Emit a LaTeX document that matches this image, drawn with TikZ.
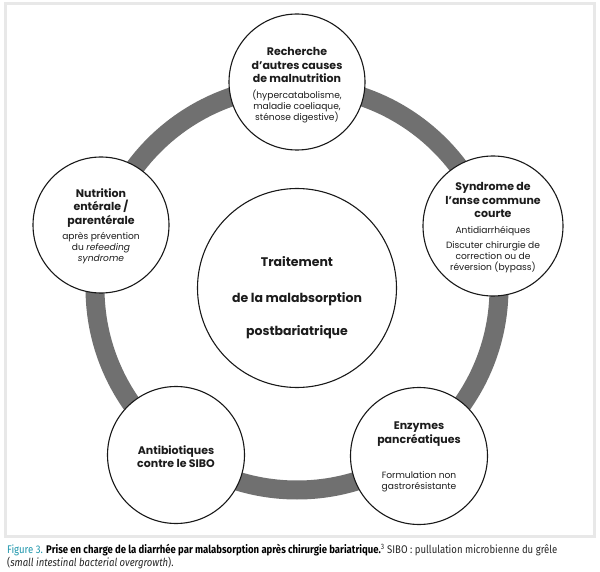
\documentclass[tikz,border=0pt]{standalone}
\usepackage{fontspec}
\setmainfont{Poppins}
\newfontfamily\capfont[FakeStretch=0.86]{Fira Sans}
\definecolor{ringc}{RGB}{112,112,112}
\definecolor{txt}{RGB}{28,28,28}
\definecolor{figc}{RGB}{30,150,172}
\begin{document}
\begin{tikzpicture}[x=1pt,y=-1pt]
\tikzset{
  bubble/.style={circle, draw=black!90, line width=1.1pt, fill=white, minimum size=#1, inner sep=0pt},
  head/.style={font=\fontsize{11}{13.5}\selectfont\bfseries, align=center, text=txt, inner sep=0pt},
  sub/.style={font=\fontsize{9.1}{11}\selectfont, align=center, text=txt, inner sep=0pt},
  big/.style={font=\fontsize{12.5}{15}\selectfont\bfseries, text=txt, inner sep=0pt},
  captext/.style={font=\capfont\fontsize{11.1}{13}\selectfont, anchor=west, inner sep=0pt, text=black!85}
}
\useasboundingbox (0,0) rectangle (600,572);
\fill[white] (0,0) rectangle (600,572);
% panel
\draw[black!9, line width=3pt, fill=white] (5,4) rectangle (594,536);
% ring
\draw[ringc, line width=19pt] (297,288) circle[radius=202pt];
% circles
\node[bubble=136pt] (top) at (297,82) {};
\node[bubble=136pt] (left) at (101,225) {};
\node[bubble=140pt] (right) at (493,226) {};
\node[bubble=137pt] (bl) at (176,455) {};
\node[bubble=137pt] (br) at (419,456) {};
\node[bubble=199pt] (center) at (297,288) {};
% texts
\node[head] (topH) at (297,65) {Recherche\\d'autres causes\\de malnutrition};
\node[sub] (topS) at (297,106) {(hypercatabolisme,\\maladie coeliaque,\\sténose digestive)};
\node[head] (leftH) at (101,208) {Nutrition\\entérale /\\parentérale};
\node[sub] (leftS) at (101,248) {après prévention\\du \textit{refeeding}\\\textit{syndrome}};
\node[head] (rightH) at (493,200) {Syndrome de\\l'anse commune\\courte};
\node[sub] (rightS1) at (493,231) {Antidiarrhéiques};
\node[sub] (rightS2) at (493,257) {Discuter chirurgie de\\correction ou de\\réversion (bypass)};
\node[head] (blH) at (176,456.5) {Antibiotiques\\contre le SIBO};
\node[head] (brH) at (419,434) {Enzymes\\pancréatiques};
\node[sub] (brS) at (419,482) {Formulation non\\gastrorésistante};
\node[big] (c1) at (297,262) {Traitement};
\node[big] (c2) at (297,299) {de la malabsorption};
\node[big] (c3) at (297,332) {postbariatrique};
% caption
\node[captext] (cap1) at (7,550) {\textcolor{figc}{Figure 3.} \textbf{\color{black}Prise en charge de la diarrhée par malabsorption après chirurgie bariatrique.}\textsuperscript{3} SIBO : pullulation microbienne du grêle};
\node[captext] (cap2) at (7,563) {(\textit{small intestinal bacterial overgrowth}).};
\end{tikzpicture}
\end{document}
